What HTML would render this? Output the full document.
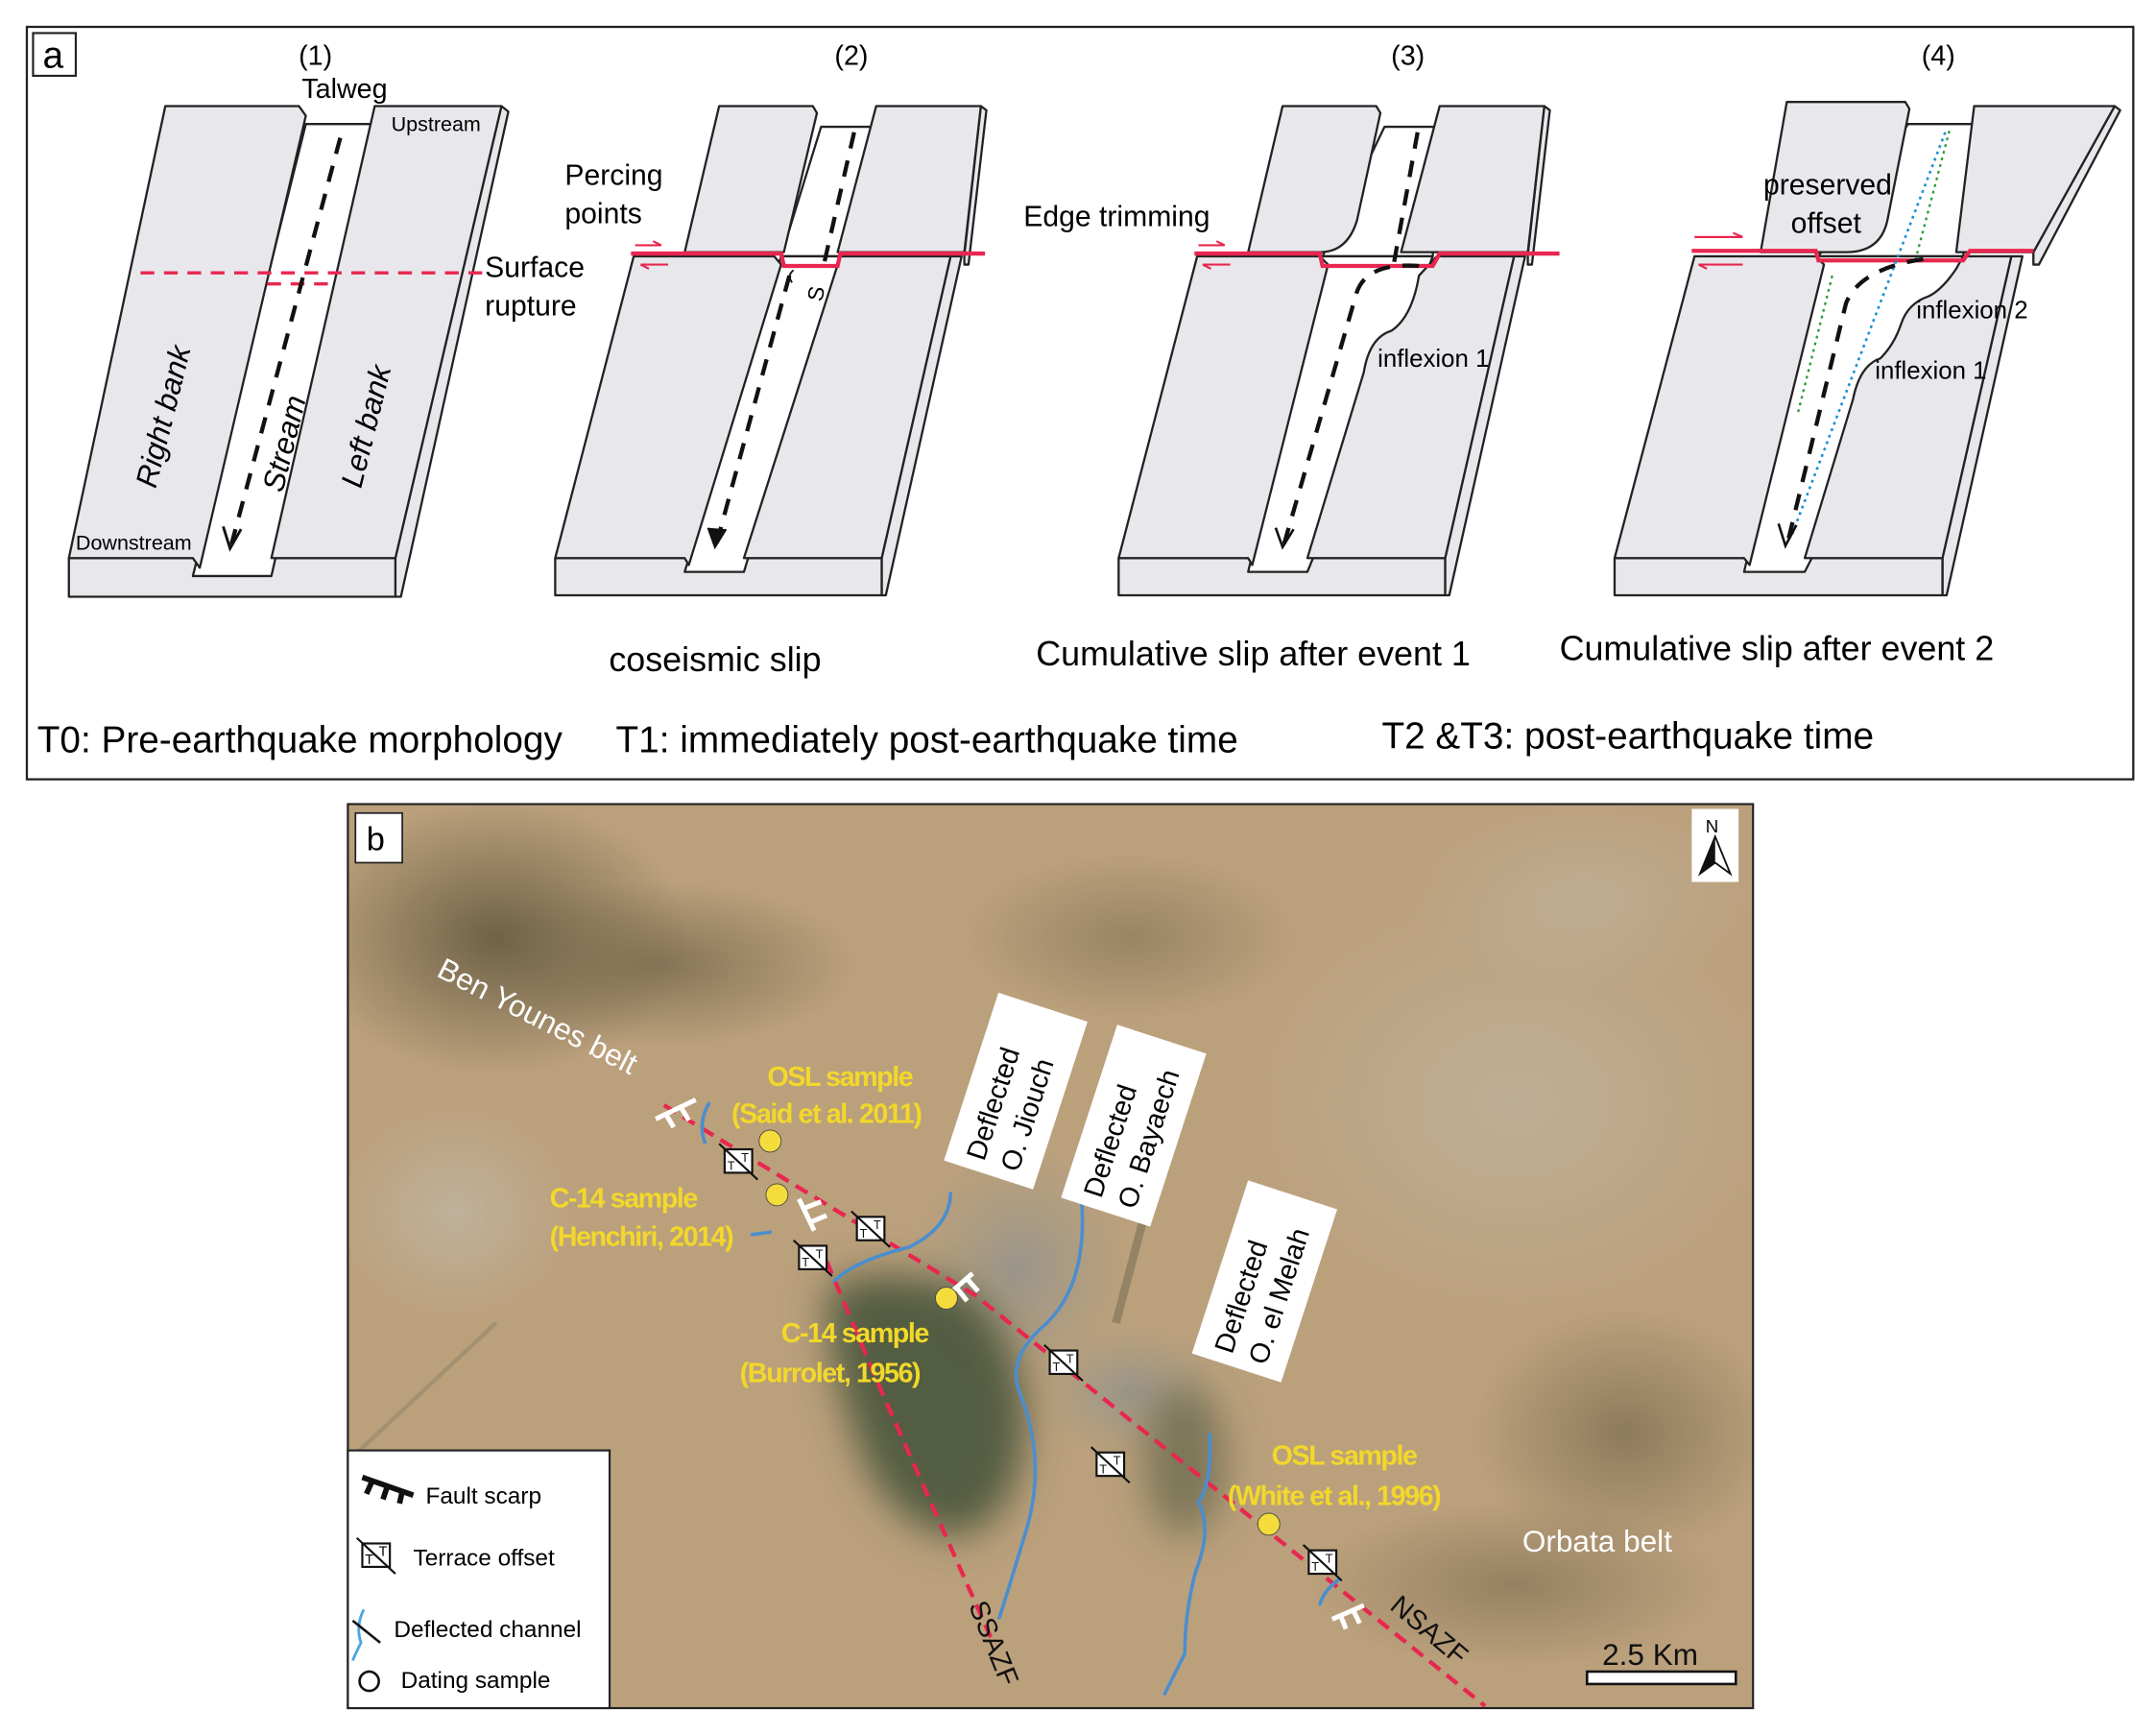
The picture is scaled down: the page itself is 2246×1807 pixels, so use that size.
<!DOCTYPE html>
<html><head><meta charset="utf-8"><style>
html,body{margin:0;padding:0;background:#fff;}
svg{display:block;}
text{font-family:"Liberation Sans",sans-serif;}
</style></head><body>
<svg width="2246" height="1807" viewBox="0 0 1565 1259" preserveAspectRatio="none" xmlns="http://www.w3.org/2000/svg">
<defs>
<radialGradient id="town" cx="50%" cy="50%" r="50%"><stop offset="0" stop-color="#9a958a"/><stop offset="1" stop-color="#a39a86" stop-opacity="0"/></radialGradient>
<radialGradient id="haze" cx="50%" cy="50%" r="50%"><stop offset="0" stop-color="#c2b8a8"/><stop offset="1" stop-color="#c2b8a8" stop-opacity="0"/></radialGradient>
<radialGradient id="dark" cx="50%" cy="50%" r="50%"><stop offset="0" stop-color="#6f6247"/><stop offset="1" stop-color="#6f6247" stop-opacity="0"/></radialGradient>
<filter id="blur" x="-30%" y="-30%" width="160%" height="160%"><feGaussianBlur stdDeviation="14"/></filter>
<clipPath id="mapclip"><rect x="253" y="584" width="1019" height="655"/></clipPath>
</defs>

<rect x="19.5" y="19.5" width="1529" height="546" fill="#fff" stroke="#222" stroke-width="1.6"/>
<rect x="24" y="24" width="31" height="31" fill="#fff" stroke="#222" stroke-width="1.5"/>
<text x="31" y="49" font-size="27">a</text>

<g stroke="#222" stroke-width="1.6" stroke-linejoin="round">
<polygon points="287,405 364,77 369,81 291,433 287,433" fill="#e8e8ec"/>
<polygon points="50,405 287,405 287,433 50,433" fill="#e8e8ec"/>
<polygon points="222,90 272,90 197,418 140,418" fill="#fff"/>
<polygon points="120,77 217,77 222,84 145,412 140,405 50,405" fill="#e8e8ec"/>
<polygon points="272,77 364,77 287,405 197,405" fill="#e8e8ec"/>
</g>
<line x1="102" y1="198" x2="350" y2="198" stroke="#e8274f" stroke-width="2.4" stroke-dasharray="10,7"/>
<line x1="194" y1="206" x2="244" y2="206" stroke="#e8274f" stroke-width="2.4" stroke-dasharray="10,7"/>
<line x1="247" y1="100" x2="168" y2="395" stroke="#111" stroke-width="3" stroke-dasharray="12,9"/>
<path d="M162,382 L167,398 L175,384" fill="none" stroke="#111" stroke-width="2"/>
<text x="229" y="47" font-size="20" text-anchor="middle">(1)</text>
<text x="219" y="71" font-size="20">Talweg</text>
<text x="284" y="95" font-size="15">Upstream</text>
<text x="55" y="399" font-size="15">Downstream</text>
<text x="352" y="201" font-size="21">Surface</text>
<text x="352" y="229" font-size="21">rupture</text>
<text transform="translate(113,355) rotate(-76)" font-size="22" font-style="italic">Right bank</text>
<text transform="translate(205,358) rotate(-76)" font-size="22" font-style="italic">Stream</text>
<text transform="translate(262,355) rotate(-76)" font-size="22" font-style="italic">Left bank</text>

<!-- Panel 2 -->
<g stroke="#222" stroke-width="1.6" stroke-linejoin="round">
<polygon points="700,185 712,77 716,80 703,192 700,192" fill="#e8e8ec"/>
<polygon points="640,405 690,186 698,186 643,432 640,432" fill="#e8e8ec"/>
<polygon points="403,405 640,405 640,432 403,432" fill="#e8e8ec"/>
<polygon points="596,92 636,92 610,186 567,186" fill="#fff"/>
<polygon points="567,186 610,186 540,415 497,415" fill="#fff"/>
<polygon points="522,77 590,77 593,82 569,183 497,183" fill="#e8e8ec"/>
<polygon points="636,77 712,77 700,183 608,183" fill="#e8e8ec"/>
<polygon points="460,186 562,186 567,192 500,410 497,405 403,405" fill="#e8e8ec"/>
<polygon points="610,186 690,186 640,405 540,405" fill="#e8e8ec"/>
</g>
<path d="M458,184 L567,184 L569,193 L608,193 L610,184 L715,184" fill="none" stroke="#e8274f" stroke-width="3"/>
<path d="M461,178 L480,178 M474,175 L480,178" fill="none" stroke="#e8274f" stroke-width="1.5"/>
<path d="M465,192 L485,192 M465,192 L471,195" fill="none" stroke="#e8274f" stroke-width="1.5"/>
<line x1="620" y1="96" x2="598" y2="192" stroke="#111" stroke-width="3" stroke-dasharray="12,9"/>
<line x1="573" y1="200" x2="520" y2="395" stroke="#111" stroke-width="3" stroke-dasharray="12,9"/>
<path d="M514,383 L519,397 L527,384" fill="#111" stroke="#111" stroke-width="1.5"/>
<text x="584" y="220" font-size="16" transform="rotate(-80 590 212)">S</text>
<path d="M576,196 Q571,200 575,205" fill="none" stroke="#111" stroke-width="1.3"/>
<text x="618" y="47" font-size="20" text-anchor="middle">(2)</text>
<text x="410" y="134" font-size="21">Percing</text>
<text x="410" y="162" font-size="21">points</text>
<text x="442" y="487" font-size="25">coseismic slip</text>

<!-- Panel 3 -->
<g stroke="#222" stroke-width="1.6" stroke-linejoin="round">
<polygon points="1109,185 1121,77 1125,80 1112,192 1109,192" fill="#e8e8ec"/>
<polygon points="1049,405 1099,186 1107,186 1052,432 1049,432" fill="#e8e8ec"/>
<polygon points="812,405 1049,405 1049,432 812,432" fill="#e8e8ec"/>
<polygon points="1005,92 1045,92 1040,186 960,186" fill="#fff"/>
<polygon points="960,186 1040,186 1020,240 949,415 906,415" fill="#fff"/>
<path d="M931,77 L999,77 L1002,82 L985,160 Q978,183 958,183 L906,183 Z" fill="#e8e8ec"/>
<polygon points="1045,77 1121,77 1109,183 1017,183" fill="#e8e8ec"/>
<polygon points="869,186 958,186 964,192 909,410 906,405 812,405" fill="#e8e8ec"/>
<path d="M1043,186 L1099,186 L1049,405 L949,405 L990,270 Q994,245 1010,240 Q1025,230 1030,200 Z" fill="#e8e8ec"/>
</g>
<path d="M867,184 L958,184 L960,193 L1040,193 L1045,184 L1132,184" fill="none" stroke="#e8274f" stroke-width="3"/>
<path d="M870,178 L889,178 M883,175 L889,178" fill="none" stroke="#e8274f" stroke-width="1.5"/>
<path d="M873,192 L893,192 M873,192 L879,195" fill="none" stroke="#e8274f" stroke-width="1.5"/>
<line x1="1029" y1="96" x2="1012" y2="190" stroke="#111" stroke-width="3" stroke-dasharray="12,9"/>
<path d="M1030,193 Q990,190 984,215 L932,395" fill="none" stroke="#111" stroke-width="3" stroke-dasharray="12,9"/>
<path d="M926,383 L931,397 L939,384" fill="none" stroke="#111" stroke-width="1.8"/>
<text x="1022" y="47" font-size="20" text-anchor="middle">(3)</text>
<text x="743" y="164" font-size="21">Edge trimming</text>
<text x="1000" y="266" font-size="18">inflexion 1</text>
<text x="752" y="483" font-size="25">Cumulative slip after event 1</text>

<!-- Panel 4 -->
<g stroke="#222" stroke-width="1.6" stroke-linejoin="round">
<polygon points="1476,183 1535,77 1539,80 1480,192 1476,192" fill="#e8e8ec"/>
<polygon points="1410,405 1460,186 1468,186 1413,432 1410,432" fill="#e8e8ec"/>
<polygon points="1172,405 1410,405 1410,432 1172,432" fill="#e8e8ec"/>
<polygon points="1385,90 1437,90 1425,186 1320,186" fill="#fff"/>
<polygon points="1320,186 1425,186 1400,240 1310,415 1266,415" fill="#fff"/>
<path d="M1297,74 L1383,74 L1386,79 L1370,160 Q1365,183 1340,183 L1278,183 Z" fill="#e8e8ec"/>
<polygon points="1433,77 1535,77 1476,183 1420,183" fill="#e8e8ec"/>
<polygon points="1230,186 1318,186 1324,192 1270,410 1266,405 1172,405" fill="#e8e8ec"/>
<path d="M1425,186 L1460,186 L1410,405 L1310,405 L1345,290 Q1350,265 1365,260 Q1375,250 1380,235 Q1385,220 1400,215 Q1410,210 1420,195 Z" fill="#e8e8ec"/>
</g>
<path d="M1228,182 L1318,182 L1320,189 L1425,189 L1430,182 L1476,182" fill="none" stroke="#e8274f" stroke-width="3"/>
<path d="M1230,172 L1265,172 M1258,169 L1265,172" fill="none" stroke="#e8274f" stroke-width="1.5"/>
<path d="M1233,192 L1265,192 M1233,192 L1239,195" fill="none" stroke="#e8274f" stroke-width="1.5"/>
<line x1="1412" y1="96" x2="1300" y2="390" stroke="#1b8fd3" stroke-width="1.8" stroke-dasharray="2,3"/>
<line x1="1415" y1="95" x2="1390" y2="190" stroke="#2a9a3a" stroke-width="1.6" stroke-dasharray="2,3"/>
<line x1="1330" y1="200" x2="1305" y2="300" stroke="#2a9a3a" stroke-width="1.6" stroke-dasharray="2,3"/>
<path d="M1396,188 Q1350,195 1340,220 L1298,392" fill="none" stroke="#111" stroke-width="3" stroke-dasharray="12,9"/>
<path d="M1291,380 L1296,396 L1304,381" fill="none" stroke="#111" stroke-width="1.8"/>
<text x="1407" y="47" font-size="20" text-anchor="middle">(4)</text>
<text x="1280" y="141" font-size="21">preserved</text>
<text x="1300" y="169" font-size="21">offset</text>
<text x="1391" y="231" font-size="18">inflexion 2</text>
<text x="1361" y="275" font-size="18">inflexion 1</text>
<text x="1132" y="479" font-size="25">Cumulative slip after event 2</text>

<text x="27" y="546" font-size="27">T0: Pre-earthquake morphology</text>
<text x="447" y="546" font-size="27">T1: immediately post-earthquake time</text>
<text x="1003" y="543" font-size="27">T2 &amp;T3:  post-earthquake time</text>

<!-- Map b -->
<g clip-path="url(#mapclip)">
<rect x="253" y="584" width="1019" height="655" fill="#bba07c"/>
<ellipse cx="360" cy="680" rx="140" ry="100" fill="url(#dark)"/>
<ellipse cx="480" cy="700" rx="140" ry="60" fill="url(#dark)" opacity="0.7"/>
<ellipse cx="330" cy="880" rx="90" ry="80" fill="url(#haze)" opacity="0.7"/>
<ellipse cx="1100" cy="800" rx="200" ry="160" fill="url(#haze)" opacity="0.6"/>
<ellipse cx="1150" cy="650" rx="130" ry="70" fill="url(#haze)" opacity="0.5"/>
<ellipse cx="1180" cy="1040" rx="110" ry="90" fill="url(#dark)" opacity="0.6"/>
<ellipse cx="1100" cy="1150" rx="150" ry="60" fill="url(#dark)" opacity="0.5"/>
<ellipse cx="820" cy="680" rx="120" ry="60" fill="url(#dark)" opacity="0.45"/>
<ellipse cx="740" cy="920" rx="80" ry="90" fill="url(#town)"/>
<ellipse cx="820" cy="1010" rx="70" ry="50" fill="url(#town)"/>
<g filter="url(#blur)">
<path d="M600,935 Q640,915 700,935 Q740,965 745,1030 Q740,1110 690,1115 Q640,1105 620,1040 Q600,985 600,935 Z" fill="#48543a" opacity="0.9"/>
<ellipse cx="860" cy="1060" rx="30" ry="55" fill="#535c40" opacity="0.6"/>
</g>
<line x1="855" y1="790" x2="810" y2="960" stroke="#5c5a44" stroke-width="6" opacity="0.4"/>
<line x1="253" y1="1060" x2="360" y2="960" stroke="#7d7c63" stroke-width="3" opacity="0.4"/>
</g>
<rect x="252.5" y="583.5" width="1020" height="656" fill="none" stroke="#222" stroke-width="1.5"/>
<rect x="258" y="590" width="34" height="36" fill="#fff" stroke="#222" stroke-width="1.2"/>
<text x="266" y="617" font-size="24">b</text>
<rect x="1228" y="587" width="34" height="53" fill="#fff"/>
<text x="1238" y="604" font-size="13">N</text>
<polygon points="1245,607 1234,634 1245,626 1256,634" fill="#fff" stroke="#111" stroke-width="1.3"/>
<polygon points="1245,607 1234,634 1245,626" fill="#111"/>

<path d="M482,802 L708,940 L1078,1238" fill="none" stroke="#e8274f" stroke-width="3" stroke-dasharray="10,6"/>
<path d="M600,915 L640,1010 L720,1190" fill="none" stroke="#e8274f" stroke-width="3" stroke-dasharray="10,6"/>
<path d="M690,865 Q690,890 660,905 Q620,915 605,930" fill="none" stroke="#4a8ecf" stroke-width="2.5"/>
<path d="M785,870 Q790,930 760,960 Q730,985 740,1010 Q760,1060 745,1110 Q730,1160 725,1175" fill="none" stroke="#4a8ecf" stroke-width="2.5"/>
<path d="M878,1040 Q880,1075 870,1090 Q880,1110 868,1140 Q860,1170 860,1200 L845,1230" fill="none" stroke="#4a8ecf" stroke-width="2.5"/>
<path d="M515,800 Q506,815 512,830" fill="none" stroke="#4a8ecf" stroke-width="2.5"/>
<path d="M545,896 L560,894" fill="none" stroke="#4a8ecf" stroke-width="2.5"/>
<path d="M972,1146 Q960,1155 958,1165" fill="none" stroke="#4a8ecf" stroke-width="2.5"/>
<g stroke="#fff" stroke-width="3.5" fill="none">
<path d="M476,812 L505,798 M483,808 L489,818 M494,803 L500,813"/>
<path d="M580,870 L591,893 M583,877 L596,872 M588,887 L600,882"/>
<path d="M690,938 L706,924 M694,934 L702,944 M702,928 L710,937"/>
<path d="M967,1175 L990,1165 M973,1172 L977,1182 M982,1168 L987,1178"/>
</g>
<g fill="#fff" stroke="#111" stroke-width="1.5">
<rect x="526" y="834" width="20" height="17"/><line x1="522" y1="830" x2="550" y2="856"/>
<rect x="622" y="883" width="20" height="17"/><line x1="618" y1="879" x2="646" y2="905"/>
<rect x="580" y="904" width="20" height="17"/><line x1="576" y1="900" x2="604" y2="926"/>
<rect x="762" y="980" width="20" height="17"/><line x1="758" y1="976" x2="786" y2="1002"/>
<rect x="796" y="1054" width="20" height="17"/><line x1="792" y1="1050" x2="820" y2="1076"/>
<rect x="950" y="1125" width="20" height="17"/><line x1="946" y1="1121" x2="974" y2="1147"/>
</g>
<g font-size="9" fill="#111">
<text x="528" y="849">T</text><text x="538" y="843">T</text>
<text x="624" y="898">T</text><text x="634" y="892">T</text>
<text x="582" y="919">T</text><text x="592" y="913">T</text>
<text x="764" y="995">T</text><text x="774" y="989">T</text>
<text x="798" y="1069">T</text><text x="808" y="1063">T</text>
<text x="952" y="1140">T</text><text x="962" y="1134">T</text>
</g>
<g fill="#f4dc3c" stroke="#444" stroke-width="0.6">
<circle cx="559" cy="828" r="8"/><circle cx="564" cy="867" r="8"/><circle cx="687" cy="942" r="8"/><circle cx="921" cy="1106" r="8"/>
</g>
<g font-weight="bold" fill="#f2d82a" font-size="20" letter-spacing="-1">
<text x="557" y="788">OSL sample</text>
<text x="531" y="815">(Said et al. 2011)</text>
<text x="399" y="876">C-14 sample</text>
<text x="399" y="904">(Henchiri, 2014)</text>
<text x="567" y="974">C-14 sample</text>
<text x="537" y="1003">(Burrolet, 1956)</text>
<text x="923" y="1063">OSL sample</text>
<text x="891" y="1092">(White et al., 1996)</text>
</g>
<text transform="translate(316,708) rotate(27)" font-size="22" fill="#fff">Ben Younes belt</text>
<text x="1105" y="1126" font-size="22" fill="#fff">Orbata belt</text>
<text transform="translate(703,1165) rotate(68)" font-size="20" fill="#111">SSAZF</text>
<text transform="translate(1008,1167) rotate(40)" font-size="20" fill="#111">NSAZF</text>
<g transform="translate(720,845) rotate(-72)">
<rect x="-8" y="-34" width="128" height="68" fill="#fff"/>
<text x="0" y="-6" font-size="20">Deflected</text><text x="0" y="20" font-size="20">O. Jiouch</text>
</g>
<g transform="translate(805,872) rotate(-72)">
<rect x="-8" y="-34" width="132" height="68" fill="#fff"/>
<text x="0" y="-6" font-size="20">Deflected</text><text x="0" y="20" font-size="20">O. Bayaech</text>
</g>
<g transform="translate(900,985) rotate(-72)">
<rect x="-8" y="-34" width="132" height="68" fill="#fff"/>
<text x="0" y="-6" font-size="20">Deflected</text><text x="0" y="20" font-size="20">O. el Melah</text>
</g>
<text x="1163" y="1208" font-size="22" fill="#111">2.5 Km</text>
<rect x="1152" y="1213" width="108" height="9" fill="#fff" stroke="#111" stroke-width="1.8"/>
<rect x="252.5" y="1052.5" width="190" height="187" fill="#fff" stroke="#222" stroke-width="1.5"/>
<path d="M263,1072 L300,1085 M270,1075 L266,1084 M281,1079 L278,1088 M292,1082 L290,1091" stroke="#111" stroke-width="4" fill="none"/>
<text x="309" y="1091" font-size="17">Fault scarp</text>
<rect x="263" y="1120" width="20" height="17" fill="#fff" stroke="#111" stroke-width="1.5"/>
<line x1="259" y1="1116" x2="287" y2="1142" stroke="#111" stroke-width="1.5"/>
<text x="265" y="1135" font-size="10">T</text><text x="275" y="1129" font-size="10">T</text>
<text x="300" y="1136" font-size="17">Terrace offset</text>
<path d="M264,1168 Q258,1180 262,1192 Q258,1200 256,1205" stroke="#4aa8e0" stroke-width="2" fill="none"/>
<line x1="256" y1="1176" x2="276" y2="1192" stroke="#111" stroke-width="1.8"/>
<text x="286" y="1188" font-size="17">Deflected channel</text>
<circle cx="268" cy="1220" r="7" fill="none" stroke="#111" stroke-width="1.8"/>
<text x="291" y="1225" font-size="17">Dating sample</text>
</svg>
</body></html>
